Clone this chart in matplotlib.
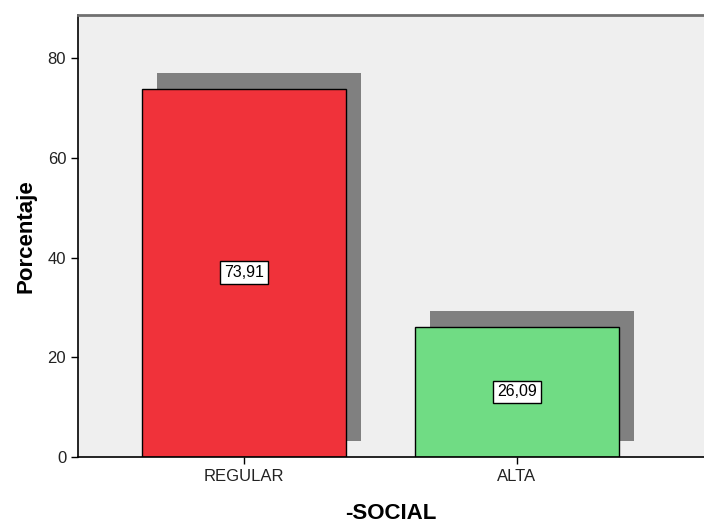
import matplotlib.pyplot as plt

plt.rcParams["font.family"] = ["Liberation Sans", "DejaVu Sans"]

categorias = ["REGULAR", "ALTA"]
porcentajes = [73.91, 26.09]
etiquetas = ["73,91", "26,09"]
colores = ["#f0323a", "#70dc84"]

fig = plt.figure(figsize=(7.04, 5.27), dpi=100)
ax = fig.add_axes([78 / 704, 1 - 457 / 527, 1 - 78 / 704, 442 / 527])
ax.set_facecolor("#efefef")

x = range(len(categorias))
# sombra
ax.bar([i + 0.055 for i in x], porcentajes, width=0.75, bottom=3.2,
       color="#808080", zorder=1)
ax.bar(x, porcentajes, width=0.75, color=colores, edgecolor="black",
       linewidth=1, zorder=2)

for i, v in enumerate(porcentajes):
    ax.text(i, v / 2, etiquetas[i], ha="center", va="center", fontsize=11.5,
            zorder=3, bbox=dict(boxstyle="square,pad=0.25", fc="white",
                                ec="black", lw=1))

ax.set_xlim(-0.608, 1.685)
ax.set_ylim(0, 88.7)
ax.set_yticks([0, 20, 40, 60, 80])
ax.set_xticks(list(x))
ax.set_xticklabels(categorias)
ax.tick_params(axis="both", labelsize=12, colors="black", length=5, width=1)
ax.tick_params(axis="both", labelcolor="#222222")

ax.spines["right"].set_visible(False)
ax.spines["top"].set_color("#707070")
ax.spines["top"].set_linewidth(2)
ax.spines["left"].set_linewidth(1.2)
ax.spines["bottom"].set_linewidth(1.2)

ax.set_ylabel("Porcentaje", fontsize=16, fontweight="bold", labelpad=8)
ax.set_xlabel("-SOCIAL", fontsize=16, fontweight="bold", labelpad=14)

fig.savefig("out.png", dpi=100)
